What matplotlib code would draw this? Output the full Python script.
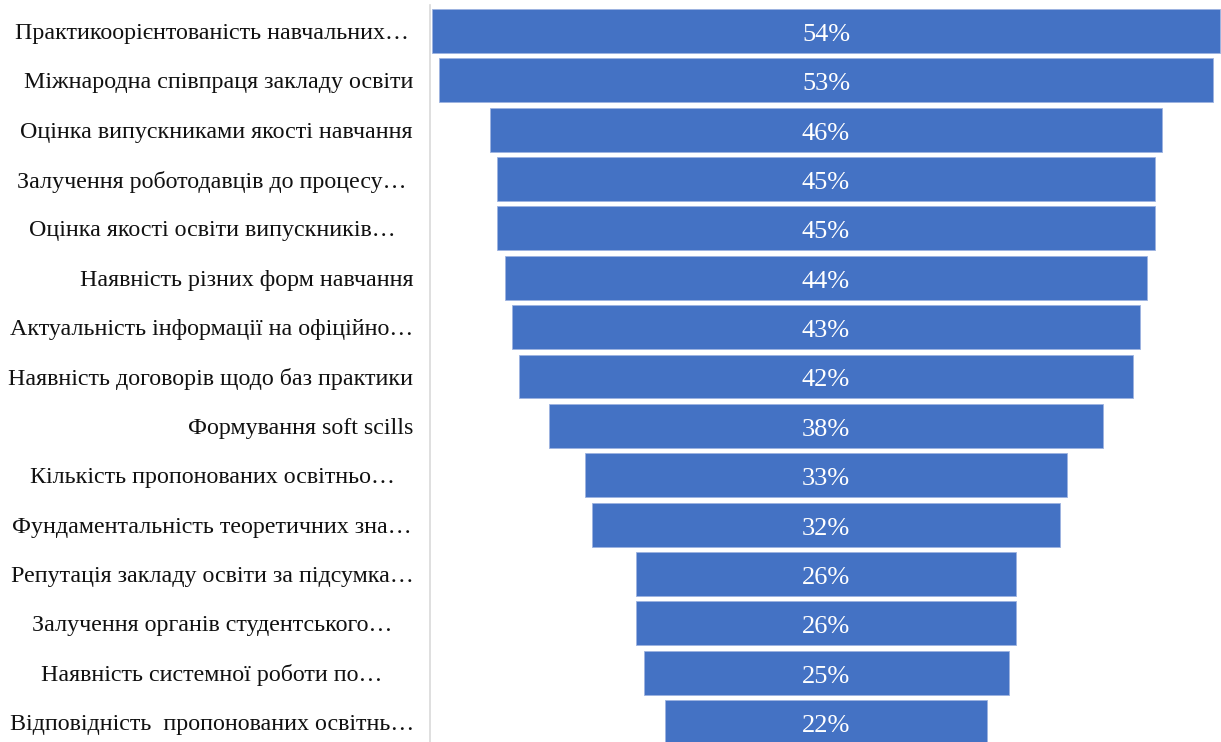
import matplotlib
matplotlib.use("Agg")
import matplotlib.pyplot as plt
import matplotlib.transforms as mtransforms

categories = [
    "Практикоорієнтованість навчальних…",
    "Міжнародна співпраця закладу освіти",
    "Оцінка випускниками якості навчання",
    "Залучення роботодавців до процесу…",
    "Оцінка якості освіти випускників…",
    "Наявність різних форм навчання",
    "Актуальність інформації на офіційно…",
    "Наявність договорів щодо баз практики",
    "Формування soft scills",
    "Кількість пропонованих освітньо…",
    "Фундаментальність теоретичних зна…",
    "Репутація закладу освіти за підсумка…",
    "Залучення органів студентського…",
    "Наявність системної роботи по…",
    "Відповідність  пропонованих освітнь…",
]
values = [54, 53, 46, 45, 45, 44, 43, 42, 38, 33, 32, 26, 26, 25, 22]

plt.rcParams['font.family'] = ['Liberation Serif', 'DejaVu Serif']

W, H = 1221, 742
fig = plt.figure(figsize=(W / 100, H / 100), dpi=100)
ax_left_px, ax_right_px, ax_top_px = 430, 1222, 5
ax = fig.add_axes([ax_left_px / W, 0, (ax_right_px - ax_left_px) / W, (H - ax_top_px) / H])

bar_color = "#4472C4"
n = len(values)
y = list(range(n))
lefts = [-v / 2 for v in values]
ax.barh(y, values, left=lefts, height=0.89, color=bar_color,
        edgecolor="#9DB3E0", linewidth=0.6)

for yi, v in zip(y, values):
    ax.text(0, yi + 0.08, f"{v}%", ha="center", va="center", color="white", fontsize=19)

half = (ax_right_px - ax_left_px) / 2 / 14.6
ax.set_xlim(-half, half)
row_px = 49.36
top_off = (31 - ax_top_px) / row_px
bot = (H - 31) / row_px
ax.set_ylim(bot, -top_off)

for s in ["top", "right", "bottom"]:
    ax.spines[s].set_visible(False)
ax.spines["left"].set_color("#D9D9D9")
ax.spines["left"].set_linewidth(1.2)
ax.set_xticks([])
ax.set_yticks([])

# category labels
trans = mtransforms.blended_transform_factory(fig.transFigure, ax.transData)
for yi, lab in zip(y, categories):
    if lab.endswith("…"):
        x_px, ha = 212, "center"
    else:
        x_px, ha = 413, "right"
    fig.text(x_px / W, yi + 0.05, lab, transform=trans, ha=ha, va="center",
             fontsize=17.3, color="#111111")

fig.savefig("out.png", dpi=100)
